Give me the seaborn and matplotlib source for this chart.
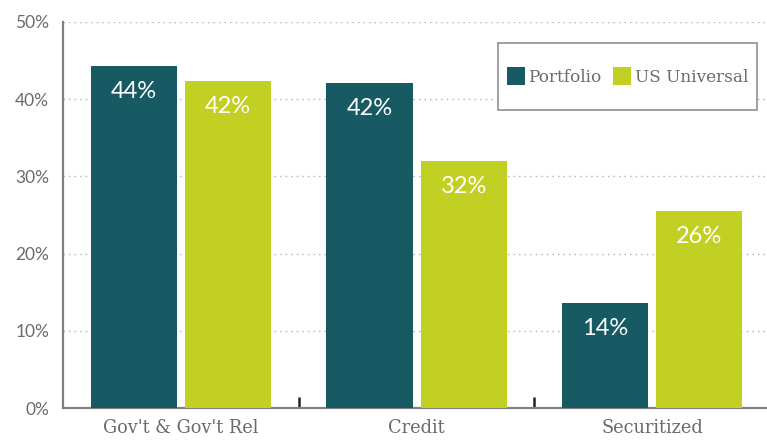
import matplotlib
matplotlib.use("Agg")
import matplotlib.pyplot as plt
import seaborn as sns
import pandas as pd
from matplotlib.ticker import FixedLocator, FuncFormatter
from matplotlib.patches import Patch, Rectangle

categories = ["Gov't & Gov't Rel", "Credit", "Securitized"]
series_names = ["Portfolio", "US Universal"]
portfolio = [44.3, 42.1, 13.6]
universal = [42.4, 32.0, 25.5]
portfolio_labels = ["44%", "42%", "14%"]
universal_labels = ["42%", "32%", "26%"]
y_ticks = [0, 10, 20, 30, 40, 50]

colors = ["#175A63", "#C2D024"]
gray = "#6b6b6b"

df = pd.DataFrame({
    "category": categories * 2,
    "series": [series_names[0]] * 3 + [series_names[1]] * 3,
    "value": portfolio + universal,
})

sns.set_theme(style="white")
plt.rcParams["font.family"] = ["Lato", "DejaVu Sans"]

fig = plt.figure(figsize=(7.67, 4.4), dpi=100)
ax = fig.add_axes([63 / 767, 32 / 440, 704 / 767, 386 / 440])

sns.barplot(data=df, x="category", y="value", hue="series", order=categories,
            hue_order=series_names, palette=colors, width=0.8, gap=0.085,
            saturation=1, ax=ax, legend=False, zorder=3, linewidth=0)

ax.set_ylim(0, 50)
ax.set_xlim(-0.5, 2.487)
ax.yaxis.set_major_locator(FixedLocator(y_ticks))
ax.yaxis.set_major_formatter(FuncFormatter(lambda v, p: f"{int(v)}%"))
ax.grid(axis="y", linestyle=(0, (1, 3)), color="#b0b0b0", linewidth=1.0, zorder=0)
ax.set_axisbelow(True)

for s in ["top", "right"]:
    ax.spines[s].set_visible(False)
for s in ["left", "bottom"]:
    ax.spines[s].set_color("#808080")
    ax.spines[s].set_linewidth(1.6)

ax.tick_params(axis="y", length=0, labelsize=12.5, labelcolor=gray, pad=10)
ax.tick_params(axis="x", length=0, labelsize=12.8, labelcolor=gray, pad=8)
for lbl in ax.get_xticklabels():
    lbl.set_fontfamily("DejaVu Serif")
ax.xaxis.set_minor_locator(FixedLocator([0.5, 1.5]))
ax.tick_params(axis="x", which="minor", direction="in", length=8, width=1.8,
               color="#222222", bottom=True)
ax.set_xlabel("")
ax.set_ylabel("")

labels_all = [portfolio_labels, universal_labels]
for cont, labs in zip(ax.containers, labels_all):
    ax.bar_label(cont, labels=labs, label_type="edge", padding=-26,
                 color="white", fontsize=17, zorder=5)

# legend frame
frame = Rectangle((0.618, 0.772), 0.368, 0.174, transform=ax.transAxes,
                  facecolor="white", edgecolor="#999999", linewidth=1.3,
                  zorder=6, clip_on=False)
ax.add_patch(frame)

handles = [Patch(facecolor=c, edgecolor="none") for c in colors]
leg = ax.legend(handles, series_names, loc="center", bbox_to_anchor=(0.802, 0.859),
                ncol=2, frameon=False, handlelength=1.05,
                handleheight=1.25, handletextpad=0.2, columnspacing=0.7,
                borderpad=0, borderaxespad=0,
                prop={"family": "DejaVu Serif", "size": 12.2})
leg.set_zorder(7)
for t in leg.get_texts():
    t.set_color(gray)

fig.savefig("out.png", dpi=100)
